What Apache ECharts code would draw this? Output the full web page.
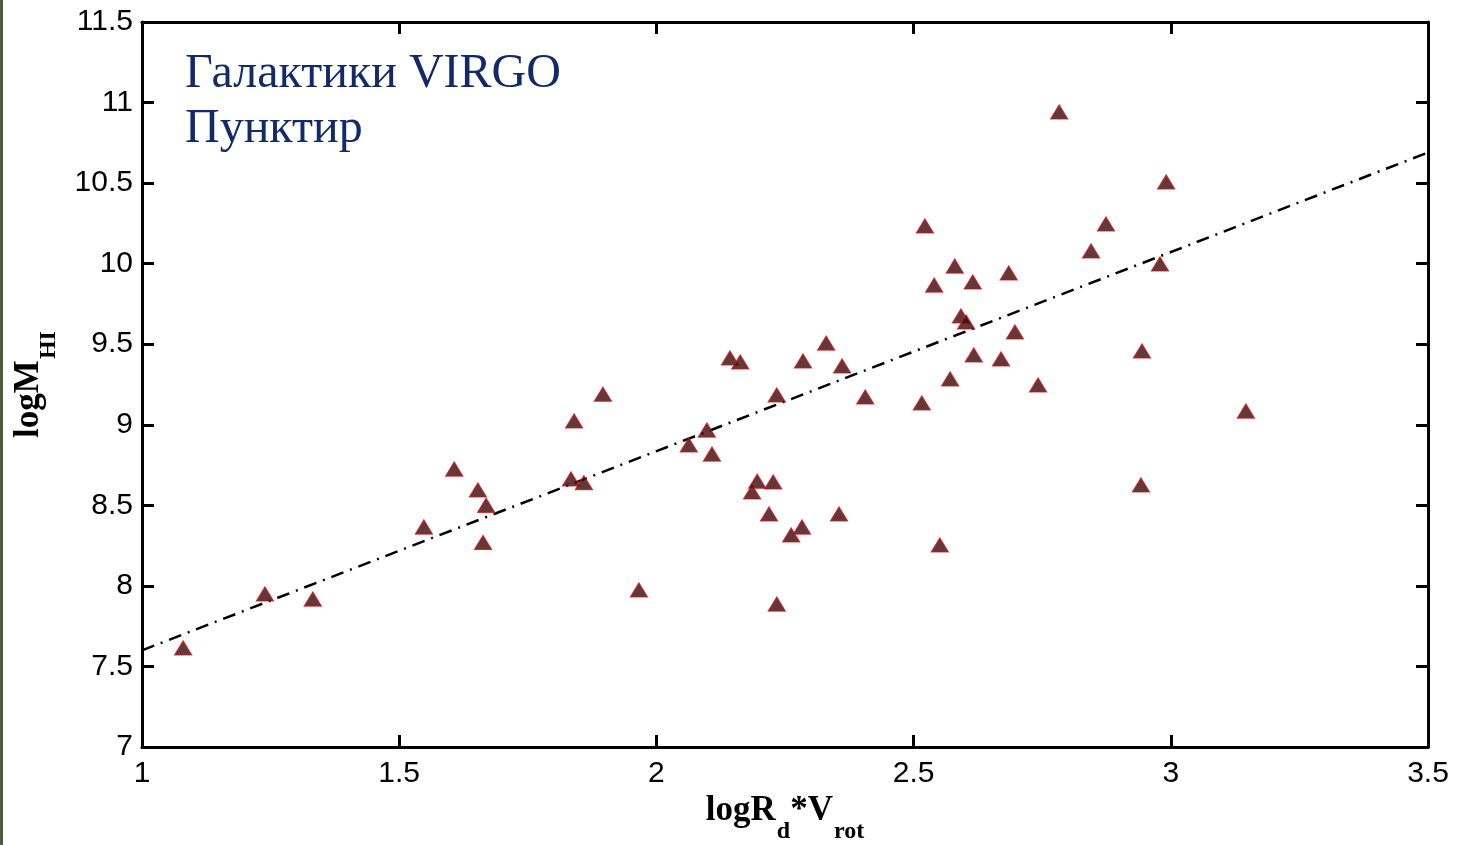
<!DOCTYPE html>
<html>
<head>
<meta charset="utf-8">
<script src="https://cdn.jsdelivr.net/npm/echarts@6/dist/echarts.min.js"></script>
<style>
html,body{margin:0;padding:0;background:#fff;}
#chart{width:1461px;height:845px;}
#edge{position:absolute;left:0;top:0;width:3px;height:845px;background:#4b5e3b;}
</style>
</head>
<body>
<div id="chart"></div>
<div id="edge"></div>
<script>
// galaxy data
const xVals = [1.080,1.239,1.332,1.548,1.607,1.653,1.669,1.663,1.840,1.834,1.859,1.896,1.966,2.063,2.098,2.108,2.143,2.163,2.186,2.196,2.227,2.219,2.234,2.234,2.262,2.283,2.285,2.330,2.361,2.355,2.406,2.516,2.522,2.540,2.551,2.571,2.580,2.592,2.602,2.615,2.617,2.670,2.685,2.697,2.742,2.783,2.845,2.874,2.944,2.942,2.979,2.991,3.146];
const yVals = [7.614,7.950,7.918,8.365,8.725,8.595,8.500,8.270,9.023,8.663,8.640,9.190,7.974,8.874,8.967,8.818,9.414,9.390,8.583,8.650,8.645,8.446,9.185,7.887,8.316,8.365,9.396,9.507,9.365,8.446,9.172,9.135,10.234,9.867,8.254,9.284,9.985,9.675,9.638,9.886,9.433,9.408,9.942,9.576,9.247,10.941,10.079,10.246,9.458,8.626,9.998,10.507,9.085];
// fit line endpoints
const fitX = [1.0, 3.5];
const fitY = [7.60, 10.69];
const xTicks = [1, 1.5, 2, 2.5, 3, 3.5];
const yTicks = [7, 7.5, 8, 8.5, 9, 9.5, 10, 10.5, 11, 11.5];
const titleLines = ['Галактики VIRGO', 'Пунктир'];

const points = xVals.map((x, i) => [x, yVals[i]]);
const fitLine = fitX.map((x, i) => [x, fitY[i]]);

const chart = echarts.init(document.getElementById('chart'));
const tickLabelFont = {fontFamily: 'Liberation Sans, Arial, sans-serif', fontSize: 30, color: '#000'};
const axisLine = {show: true, onZero: false, lineStyle: {color: '#000', width: 3}};
const axisTick = {show: true, inside: true, length: 12, lineStyle: {color: '#000', width: 3}};
const serif = 'Liberation Serif, Times New Roman, serif';
const nameRich = {
  b: {fontFamily: serif, fontWeight: 'bold', fontSize: 35, lineHeight: 36, color: '#000', verticalAlign: 'top'},
  s: {fontFamily: serif, fontWeight: 'bold', fontSize: 24, lineHeight: 50, color: '#000', verticalAlign: 'bottom', padding: [0, 0, 0, 1]}
};

chart.setOption({
  animation: false,
  backgroundColor: '#fff',
  grid: {left: 142, right: 33, top: 22, bottom: 98, containLabel: false, outerBoundsMode: 'none'},
  title: {
    text: titleLines.join('\n'),
    left: 180, top: 42,
    textStyle: {fontFamily: serif, fontSize: 48, fontWeight: 'normal', color: '#12296a', lineHeight: 55}
  },
  xAxis: [{
    type: 'value', min: xTicks[0], max: xTicks[xTicks.length-1], interval: 0.5,
    position: 'bottom',
    axisLine, axisTick,
    splitLine: {show: false},
    axisLabel: Object.assign({margin: 12, formatter: v => String(v)}, tickLabelFont),
    name: '{b|logR}{s|d}{b|*V}{s|rot}',
    nameLocation: 'middle', nameGap: 46,
    nameTextStyle: {rich: nameRich}
  }, {
    type: 'value', min: xTicks[0], max: xTicks[xTicks.length-1], interval: 0.5,
    position: 'top',
    axisLine, axisTick, axisLabel: {show: false}, splitLine: {show: false}
  }],
  yAxis: [{
    type: 'value', min: yTicks[0], max: yTicks[yTicks.length-1], interval: 0.5,
    position: 'left',
    axisLine, axisTick,
    splitLine: {show: false},
    axisLabel: Object.assign({margin: 9, formatter: v => String(v)}, tickLabelFont),
    name: '{b|logM}{s|HI}',
    nameLocation: 'middle', nameGap: 81, nameRotate: 90,
    nameTextStyle: {rich: nameRich}
  }, {
    type: 'value', min: yTicks[0], max: yTicks[yTicks.length-1], interval: 0.5,
    position: 'right',
    axisLine, axisTick, axisLabel: {show: false}, splitLine: {show: false}
  }],
  series: [{
    type: 'line',
    data: fitLine,
    showSymbol: false,
    symbol: 'none',
    lineStyle: {color: '#000', width: 2.5, type: [13, 7, 2, 7]},
    z: 2
  }, {
    type: 'scatter',
    data: points,
    symbol: 'triangle',
    symbolSize: [17, 14],
    itemStyle: {color: '#3a0808', borderColor: '#c8141c', borderWidth: 1.2},
    z: 3
  }]
});
</script>
</body>
</html>
